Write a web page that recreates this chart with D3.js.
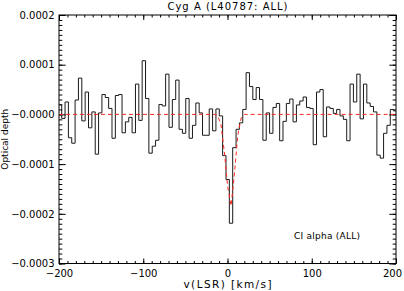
<!DOCTYPE html>
<html>
  <head>
    <title>Cyg A optical depth</title>
    <meta charset="utf-8" />
    <style>
      body { margin: 0; background: #fff; }
      text { font-family: "DejaVu Sans", sans-serif; }
    </style>
  </head>
  <body>
    <div id="chart"></div>
    <script src="https://d3js.org/d3.v7.min.js"></script>
    <script type="text/javascript">
        // channel grid in km/s (first channel centre, channel width)
        const v0 = -198.8;
        const dv = 3.98;
        // optical depth per channel, in units of 1e-5
        const tau = [
            2.0, -0.8, 2.5, -4.7, -5.8, 2.9, 7.3, -1.3, 4.5, -2.7,
            0.5, -8.0, 0.3, 4.0, 3.4, 1.2, -4.8, 3.8, 4.0, -3.7,
            -1.5, -0.6, -3.7, 6.1, -1.2, 10.8, 3.2, -7.8, -6.4, -5.2,
            2.0, 1.7, 8.1, -2.6, 3.0, 6.9, -3.0, -3.8, 3.2, -4.8,
            -2.2, 2.3, 0.3, -4.2, -4.2, 1.1, -3.3, 1.1, -0.3, -8.3,
            -13.1, -21.9, -6.7, -3.0, -1.7, 1.0, 8.4, 5.6, 3.0, 5.4,
            3.0, -5.2, 0.3, -3.8, 1.4, 2.2, -5.3, -1.4, 2.2, 3.1,
            -1.5, 1.9, 2.7, 3.5, 1.4, 1.2, -6.1, 4.5, 5.0, -4.5,
            1.5, 1.2, 0.2, 1.0, -0.3, -1.0, -5.3, 6.1, 2.5, 8.1,
            -0.9, 6.1, 2.3, 1.6, 0.5, -8.2, -8.8, -3.8, -2.2, 1.0,
            0.7
        ];
        // fitted profile (red dashed)
        const fitVel = [-200, -15.8, -11.8, -7.8, -3.8, 0.2, 4.2, 8.2, 12.2, 16.2, 20.2, 200];
        const fitTau = [0, 0, -0.2, -2.0, -7.5, -14.5, -18.4, -12.0, -4.2, -0.7, 0, 0];

        const xTicks = [-200, -100, 0, 100, 200];
        const xTickLabels = ["\u2212200", "\u2212100", "0", "100", "200"];
        const yTicks = [20, 10, 0, -10, -20, -30];
        const yTickLabels = ["0.0002", "0.0001", "\u22120.0000", "\u22120.0001", "\u22120.0002", "\u22120.0003"];

        const width = 404;
        const height = 291;
        const margin = ({top: 15, right: 8, bottom: 27.5, left: 59});

        const x = d3.scaleLinear()
            .domain([-200, 200])
            .range([margin.left, width - margin.right]);
        const y = d3.scaleLinear()
            .domain([-30, 20])
            .range([height - margin.bottom, margin.top]);

        const channels = tau.map((t, i) => ({v: v0 + dv * i, t: t}));
        // half channel at each end so the steps run out to the frame
        const steps = [{v: v0 - dv / 2, t: tau[0]}]
            .concat(channels)
            .concat([{v: v0 + dv * (tau.length - 1) + dv / 2, t: tau[tau.length - 1]}]);
        const fit = fitVel.map((v, i) => ({v: v, t: fitTau[i]}));

        const svg = d3.select("#chart")
            .append("svg")
            .attr("width", width)
            .attr("height", height)
            .style("display", "block");

        svg.append("rect")
            .attr("width", width)
            .attr("height", height)
            .attr("fill", "#fff");

        svg.append("clipPath")
            .attr("id", "plot")
            .append("rect")
            .attr("x", margin.left)
            .attr("y", margin.top)
            .attr("width", width - margin.left - margin.right)
            .attr("height", height - margin.top - margin.bottom);

        const noDomain = g => g.select(".domain").remove();
        const xMinor = d3.range(-200, 201, 10);
        const yMinor = d3.range(-30, 21, 1);

        // bottom + top
        svg.append("g")
            .attr("transform", `translate(0,${height - margin.bottom})`)
            .call(d3.axisBottom(x).tickValues(xMinor).tickFormat("").tickSize(-2.5).tickSizeOuter(0))
            .call(noDomain);
        svg.append("g")
            .attr("transform", `translate(0,${height - margin.bottom})`)
            .attr("font-size", 9)
            .call(d3.axisBottom(x).tickValues(xTicks).tickFormat((d, i) => xTickLabels[i])
                .tickSize(-5).tickSizeOuter(0).tickPadding(6))
            .call(noDomain)
            .call(g => g.select(".tick:last-of-type text").attr("dx", -4));
        svg.append("g")
            .attr("transform", `translate(0,${margin.top})`)
            .call(d3.axisTop(x).tickValues(xMinor).tickFormat("").tickSize(-2.5).tickSizeOuter(0))
            .call(noDomain);
        svg.append("g")
            .attr("transform", `translate(0,${margin.top})`)
            .call(d3.axisTop(x).tickValues(xTicks).tickFormat("").tickSize(-5).tickSizeOuter(0))
            .call(noDomain);

        // left + right
        svg.append("g")
            .attr("transform", `translate(${margin.left},0)`)
            .call(d3.axisLeft(y).tickValues(yMinor).tickFormat("").tickSize(-3.3).tickSizeOuter(0))
            .call(noDomain);
        svg.append("g")
            .attr("transform", `translate(${margin.left},0)`)
            .attr("font-size", 9)
            .call(d3.axisLeft(y).tickValues(yTicks).tickFormat((d, i) => yTickLabels[i])
                .tickSize(-6.7).tickSizeOuter(0).tickPadding(4.5))
            .call(noDomain);
        svg.append("g")
            .attr("transform", `translate(${width - margin.right},0)`)
            .call(d3.axisRight(y).tickValues(yMinor).tickFormat("").tickSize(-3.3).tickSizeOuter(0))
            .call(noDomain);
        svg.append("g")
            .attr("transform", `translate(${width - margin.right},0)`)
            .call(d3.axisRight(y).tickValues(yTicks).tickFormat("").tickSize(-6.7).tickSizeOuter(0))
            .call(noDomain);

        svg.selectAll(".tick text")
            .attr("fill", "#000")
            .attr("font-family", "DejaVu Sans, sans-serif");

        // spectrum
        svg.append("path")
            .datum(steps)
            .attr("clip-path", "url(#plot)")
            .attr("fill", "none")
            .attr("stroke", "#1a1a1a")
            .attr("stroke-width", 1)
            .attr("d", d3.line().x(d => x(d.v)).y(d => y(d.t)).curve(d3.curveStep));

        // fit
        svg.append("path")
            .datum(fit)
            .attr("clip-path", "url(#plot)")
            .attr("fill", "none")
            .attr("stroke", "#ff2a1f")
            .attr("stroke-width", 1)
            .attr("stroke-dasharray", "4,3")
            .attr("d", d3.line().x(d => x(d.v)).y(d => y(d.t)));

        // frame
        svg.append("rect")
            .attr("x", margin.left)
            .attr("y", margin.top)
            .attr("width", width - margin.left - margin.right)
            .attr("height", height - margin.top - margin.bottom)
            .attr("fill", "none")
            .attr("stroke", "#000")
            .attr("stroke-width", 1);

        svg.append("text")
            .attr("x", (margin.left + width - margin.right) / 2)
            .attr("y", 10)
            .attr("text-anchor", "middle")
            .attr("font-size", 10)
            .attr("textLength", 120)
            .text("Cyg A (L40787: ALL)");

        svg.append("text")
            .attr("x", (margin.left + width - margin.right) / 2)
            .attr("y", 288)
            .attr("text-anchor", "middle")
            .attr("font-size", 10.5)
            .attr("textLength", 88)
            .text("v(LSR) [km/s]");

        svg.append("text")
            .attr("transform", `translate(8,${(margin.top + height - margin.bottom) / 2}) rotate(-90)`)
            .attr("text-anchor", "middle")
            .attr("font-size", 9)
            .text("Optical depth");

        svg.append("text")
            .attr("x", 294)
            .attr("y", 239)
            .attr("font-size", 9)
            .attr("textLength", 66)
            .text("CI alpha (ALL)");
    </script>
  </body>
</html>
